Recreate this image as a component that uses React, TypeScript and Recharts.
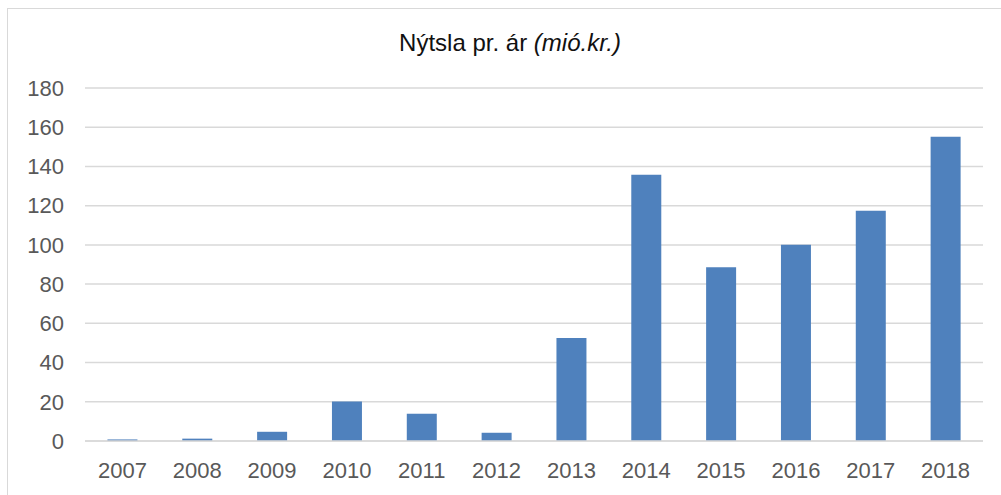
import React from "react";
import { BarChart, Bar, XAxis, YAxis, CartesianGrid } from "recharts";

const years = ["2007", "2008", "2009", "2010", "2011", "2012", "2013", "2014", "2015", "2016", "2017", "2018"];
const spending = [0.8, 1.2, 4.7, 20.2, 13.9, 4.2, 52.5, 135.8, 88.6, 100.1, 117.4, 155.2];
const yTicks = [0, 20, 40, 60, 80, 100, 120, 140, 160, 180];

const data = years.map((year, i) => ({ year, value: spending[i] }));

const FONT = "'Liberation Sans', Arial, sans-serif";
const tickStyle = { fontSize: 22, fill: "#595959", fontFamily: FONT };

export default function App() {
  return (
    <div style={{ position: "absolute", left: 0, top: 0, width: 1001, height: 495, overflow: "hidden", background: "#fff" }}>
      <div
        style={{
          position: "absolute",
          left: 7,
          top: 8,
          width: 1100,
          height: 600,
          border: "1px solid #d9d9d9",
          boxSizing: "border-box",
        }}
      />
      <div
        style={{
          position: "absolute",
          left: 0,
          top: 28,
          width: 1020,
          textAlign: "center",
          fontFamily: FONT,
          fontSize: 24,
          color: "#111",
          lineHeight: "30px",
        }}
      >
        Nýtsla pr. ár <i>(mió.kr.)</i>
      </div>
      <BarChart
        width={1001}
        height={495}
        data={data}
        margin={{ top: 88, right: 18, bottom: 0, left: 0 }}
        barCategoryGap="30%"
        style={{ position: "absolute", left: 0, top: 0 }}
      >
        <CartesianGrid vertical={false} stroke="#d9d9d9" strokeWidth={1.5} />
        <XAxis
          dataKey="year"
          height={54}
          tickLine={false}
          tickSize={0}
          tickMargin={21}
          axisLine={{ stroke: "#d9d9d9", strokeWidth: 1.5 }}
          tick={tickStyle}
          interval={0}
        />
        <YAxis
          width={85}
          domain={[0, 180]}
          ticks={yTicks}
          tickLine={false}
          axisLine={false}
          tickSize={0}
          tickMargin={21}
          tick={tickStyle}
        />
        <Bar dataKey="value" fill="#4f81bd" isAnimationActive={false} />
      </BarChart>
    </div>
  );
}
